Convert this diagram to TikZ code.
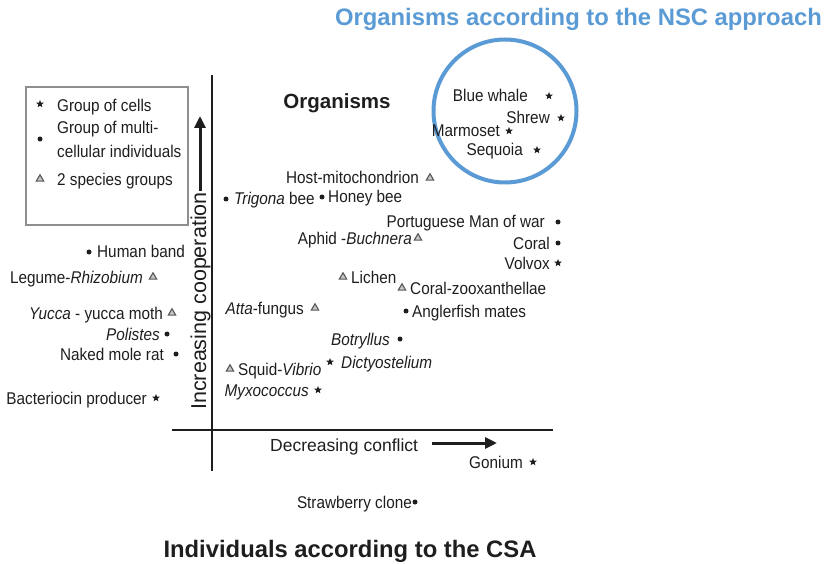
\documentclass[tikz,border=0pt]{standalone}
\usepackage{fontspec}
\setmainfont[FakeStretch=0.9]{Liberation Sans}
\newfontfamily\widefont{Liberation Sans}
\usetikzlibrary{shapes.geometric,arrows.meta}
\definecolor{nscblue}{RGB}{91,155,213}
\definecolor{ink}{RGB}{30,30,30}
\tikzset{
  lbl/.style={inner sep=0, font=\fontsize{17}{19}\selectfont, text=ink},
  starmk/.style={star, star points=5, star point ratio=2.3, fill=ink, inner sep=0, minimum size=8},
  dotmk/.style={circle, fill=ink, inner sep=0, minimum size=5},
  trimk/.style={regular polygon, regular polygon sides=3, draw=ink!75, fill=ink!25, line width=1.1, inner sep=0, minimum size=8.5},
  axis/.style={line width=2.4, draw=ink},
  bigarrow/.style={line width=3, draw=ink, -{Triangle[length=12, width=11]}},
}
% \lpt{name}{mx}{my}{marker}{label right x}{text}: label on the left of the marker
\newcommand\lpt[6]{%
  \node[#4] (#1) at (#2,#3) {};
  \node[lbl, anchor=base east] (#1-l) at (#5,#3+6) {#6};}
% \rpt: label on the right of the marker, #5 = label left x
\newcommand\rpt[6]{%
  \node[#4] (#1) at (#2,#3) {};
  \node[lbl, anchor=base west] (#1-l) at (#5,#3+6) {#6};}
\begin{document}
\begin{tikzpicture}[x=1pt,y=-1pt]
\useasboundingbox (0,0) rectangle (827,564);
% titles
\node[inner sep=0, anchor=base east, text=nscblue, font=\widefont\fontsize{23.8}{27}\selectfont\bfseries] (nsc) at (822,26) {Organisms according to the NSC approach};
\node[inner sep=0, anchor=base, text=ink, font=\widefont\fontsize{23.8}{27}\selectfont\bfseries] (csa) at (350,557) {Individuals according to the CSA};
\node[inner sep=0, anchor=base, text=ink, font=\widefont\fontsize{20.5}{24}\selectfont\bfseries] (org) at (337,109) {Organisms};
% circle
\node[circle, draw=nscblue, line width=4, minimum size=143, inner sep=0] (ring) at (505,111) {};
% legend
\node[draw=ink!50, line width=1.2, minimum width=162, minimum height=138, inner sep=0] (legend) at (107,156) {};
\node[starmk] (lg1) at (40,104) {};
\node[lbl, anchor=base west] (lg1-l) at (57,112) {Group of cells};
\node[dotmk] (lg2) at (40,139) {};
\node[lbl, anchor=base west] (lg2-l) at (57,134) {Group of multi-};
\node[lbl, anchor=base west] (lg2-m) at (57,158) {cellular individuals};
\node[trimk] (lg3) at (40,179) {};
\node[lbl, anchor=base west] (lg3-l) at (57,186) {2 species groups};
% axes
\coordinate (vtop) at (212,75);
\coordinate (vbot) at (212,471);
\coordinate (hl) at (172,430);
\coordinate (hr) at (553,430);
\draw[axis] (vtop) -- (vbot);
\draw[axis] (hl) -- (hr);
\node[inner sep=0, rotate=90, anchor=base, font=\widefont\fontsize{21.5}{24}\selectfont, text=ink] (ylab) at (206,301) {Increasing cooperation};
\coordinate (ya) at (200,191);
\coordinate (yb) at (200,116);
\draw[bigarrow] (ya) -- (yb);
\node[inner sep=0, anchor=base west, font=\widefont\fontsize{17.5}{20}\selectfont, text=ink] (xlab) at (270,451) {Decreasing conflict};
\coordinate (xa) at (432,443);
\coordinate (xb) at (497,443);
\draw[bigarrow] (xa) -- (xb);
% points inside ring
\lpt{whale}{549}{96}{starmk}{528}{Blue whale}
\lpt{shrew}{561}{118}{starmk}{550}{Shrew}
\lpt{marm}{509}{131}{starmk}{500}{Marmoset}
\lpt{sequ}{537}{150}{starmk}{523}{Sequoia}
% other points
\lpt{host}{430}{178}{trimk}{419}{Host-mitochondrion}
\rpt{trig}{226}{199}{dotmk}{234}{\textit{Trigona} bee}
\rpt{honey}{322}{197}{dotmk}{328}{Honey bee}
\lpt{port}{558}{222}{dotmk}{545}{Portuguese Man of war}
\lpt{aphid}{418}{238}{trimk}{412}{Aphid -\textit{Buchnera}}
\lpt{coral}{558}{243}{dotmk}{550}{Coral}
\lpt{volvox}{558}{263}{starmk}{550}{Volvox}
\rpt{human}{89}{252}{dotmk}{97}{Human band}
\lpt{legume}{153}{277}{trimk}{143}{Legume-\textit{Rhizobium}}
\rpt{lichen}{343}{277}{trimk}{351}{Lichen}
\rpt{czoo}{402}{288}{trimk}{410}{Coral-zooxanthellae}
\lpt{atta}{315}{308}{trimk}{304}{\textit{Atta}-fungus}
\rpt{angler}{406}{311}{dotmk}{412}{Anglerfish mates}
\lpt{yucca}{172}{313}{trimk}{163}{\textit{Yucca} - yucca moth}
\lpt{polis}{167}{334}{dotmk}{160}{\textit{Polistes}}
\lpt{botry}{400}{339}{dotmk}{390}{\textit{Botryllus}}
\lpt{mole}{176}{354}{dotmk}{164}{Naked mole rat}
\rpt{squid}{230}{369}{trimk}{238}{Squid-\textit{Vibrio}}
\rpt{dicty}{330}{362}{starmk}{341}{\textit{Dictyostelium}}
\lpt{myxo}{318}{390}{starmk}{309}{\textit{Myxococcus}}
\lpt{bact}{156}{398}{starmk}{147}{Bacteriocin producer}
\lpt{gonium}{533}{462}{starmk}{523}{Gonium}
\lpt{straw}{415}{502}{dotmk}{412}{Strawberry clone}
\end{tikzpicture}
\end{document}
